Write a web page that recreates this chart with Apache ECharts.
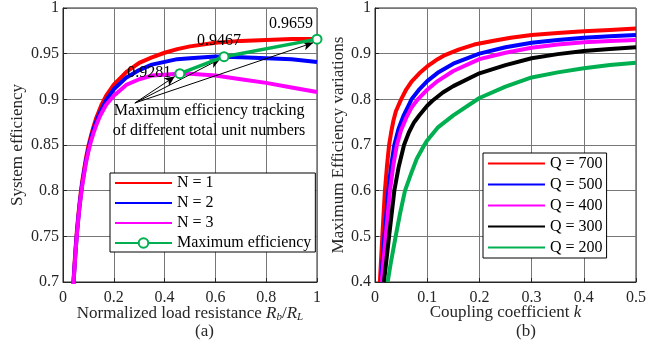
<!DOCTYPE html>
<html><head><meta charset="utf-8">
<script src="https://cdn.jsdelivr.net/npm/echarts@6/dist/echarts.min.js"></script>
<style>html,body{margin:0;padding:0;background:#fff}#c{width:649px;height:347px}</style>
</head><body><div id="c"></div>
<script>
// ---- Panel (a) data ----
var loadX = [0.041,0.045,0.05,0.055,0.06,0.065,0.07,0.075,0.08,0.09,0.1,0.11,0.12,0.13,0.14,0.15,0.17,0.2,0.25,0.3,0.35,0.4,0.45,0.5,0.6,0.7,0.8,0.9,1.0];
var effN1 = [0.700,0.718,0.739,0.757,0.772,0.786,0.798,0.809,0.818,0.835,0.849,0.860,0.870,0.879,0.886,0.893,0.904,0.916,0.930,0.940,0.946,0.951,0.955,0.958,0.962,0.964,0.965,0.966,0.966];
var effN2 = [0.698,0.715,0.736,0.754,0.769,0.783,0.795,0.806,0.815,0.832,0.845,0.857,0.867,0.875,0.882,0.888,0.899,0.911,0.924,0.932,0.938,0.941,0.944,0.945,0.947,0.946,0.945,0.944,0.941];
var effN3 = [0.697,0.714,0.735,0.753,0.768,0.782,0.793,0.804,0.813,0.830,0.843,0.854,0.863,0.871,0.878,0.884,0.894,0.904,0.916,0.922,0.926,0.927,0.928,0.928,0.926,0.922,0.918,0.913,0.908];
var maxX = [0.46,0.634,1.0];
var maxEff = [0.9281,0.9467,0.9659];
var legendA = ['N = 1','N = 2','N = 3','Maximum efficiency'];
var arrowFrom = [0.283,0.896];
var arrowTo = [[0.44,0.925],[0.618,0.944],[0.985,0.962]];
var noteText = ['Maximum efficiency tracking','of different total unit numbers'];
var notePos = [0.575,0.876];
// ---- Panel (b) data ----
var kQ700 = [0.0093,0.014,0.019,0.023,0.027,0.031,0.035,0.04,0.05,0.06,0.07,0.085,0.1,0.12,0.134,0.16,0.19,0.23,0.26,0.3,0.35,0.4,0.45,0.5];
var eQ700 = [0.40,0.50,0.60,0.655,0.70,0.728,0.752,0.774,0.80,0.822,0.839,0.857,0.872,0.888,0.897,0.909,0.920,0.929,0.935,0.941,0.945,0.949,0.952,0.955];
var kQ500 = [0.0115,0.018,0.0256,0.031,0.037,0.045,0.055,0.07,0.085,0.1,0.12,0.15,0.2,0.25,0.3,0.35,0.4,0.45,0.5];
var eQ500 = [0.40,0.50,0.60,0.655,0.70,0.735,0.765,0.80,0.822,0.84,0.858,0.878,0.90,0.914,0.924,0.930,0.935,0.938,0.941];
var kQ400 = [0.0128,0.0205,0.0287,0.035,0.042,0.05,0.06,0.07,0.082,0.1,0.12,0.15,0.2,0.25,0.3,0.35,0.4,0.45,0.5];
var eQ400 = [0.40,0.50,0.60,0.655,0.70,0.733,0.760,0.782,0.80,0.821,0.84,0.862,0.888,0.902,0.913,0.920,0.925,0.928,0.930];
var kQ300 = [0.0172,0.027,0.037,0.045,0.0556,0.065,0.075,0.085,0.1,0.11,0.13,0.15,0.2,0.25,0.3,0.35,0.4,0.45,0.5];
var eQ300 = [0.40,0.50,0.60,0.65,0.70,0.728,0.75,0.765,0.786,0.797,0.815,0.829,0.857,0.875,0.890,0.899,0.906,0.910,0.914];
var kQ200 = [0.0243,0.03,0.0396,0.048,0.0575,0.07,0.08,0.0945,0.1,0.12,0.15,0.2,0.25,0.3,0.35,0.4,0.45,0.5];
var eQ200 = [0.40,0.44,0.50,0.55,0.60,0.64,0.67,0.70,0.71,0.738,0.765,0.803,0.828,0.848,0.859,0.868,0.875,0.880];
var legendB = ['Q = 700','Q = 500','Q = 400','Q = 300','Q = 200'];

var FF = '"Liberation Serif","Times New Roman",serif';
var TXT = '#262626';
function pairs(xs, ys){ return xs.map(function(x,i){ return [x, ys[i]]; }); }

var labelCfg = [
  {position:'left', distance:3, offset:[0,-1]},
  {position:'top', distance:2, offset:[-5,0]},
  {position:'top', distance:2, offset:[-26,0]}
];
var maxData = maxX.map(function(x,i){
  return {value:[x, maxEff[i]], label:Object.assign({show:true, formatter:maxEff[i].toFixed(4), fontFamily:FF, fontSize:16, color:'#000'}, labelCfg[i])};
});

function axisCommon(){
  return {
    nameMoveOverlap:false,
    axisLine:{show:true, lineStyle:{color:TXT, width:1}},
    axisTick:{show:true, inside:true, length:4, lineStyle:{color:TXT}},
    splitLine:{show:true, lineStyle:{color:'#777777', width:1}},
    axisLabel:{fontFamily:FF, fontSize:16, color:TXT},
    nameTextStyle:{fontFamily:FF, fontSize:17, color:TXT}
  };
}
function mk(extra){ return Object.assign(axisCommon(), extra); }

var lineW = 4;
function lineSeries(name, data, color, xi){
  return {type:'line', name:name, data:data, xAxisIndex:xi, yAxisIndex:xi, showSymbol:false, symbol:'none',
    smooth:false, lineStyle:{color:color, width:lineW, join:'round'}, itemStyle:{color:color}, z:2, animation:false};
}
function legItems(names, keepLast){
  return names.map(function(n,i){
    if (keepLast && i === names.length-1) return {name:n};
    return {name:n, itemStyle:{opacity:0}};
  });
}

var option = {
  animation:false,
  backgroundColor:'#fff',
  grid:[
    {left:63, top:6, width:254, height:276, show:true, borderColor:TXT, borderWidth:1, backgroundColor:'transparent'},
    {left:375, top:6, width:261, height:276, show:true, borderColor:TXT, borderWidth:1, backgroundColor:'transparent'}
  ],
  xAxis:[
    mk({gridIndex:0, type:'value', min:0, max:1, interval:0.2, nameLocation:'middle', nameGap:22,
      name:'{t|Normalized load resistance }{i|R}{s|b}{t|/}{i|R}{s|L}',
      axisLabel:{fontFamily:FF, fontSize:16, color:TXT, margin:8},
      nameTextStyle:{fontFamily:FF, fontSize:17, color:TXT, rich:{
        t:{fontFamily:FF, fontSize:17, color:TXT},
        i:{fontFamily:FF, fontSize:17, fontStyle:'italic', color:TXT},
        s:{fontFamily:FF, fontSize:11, fontStyle:'italic', color:TXT, padding:[8,0,0,0]}
      }}}),
    mk({gridIndex:1, type:'value', min:0, max:0.5, interval:0.1, nameLocation:'middle', nameGap:22,
      name:'{t|Coupling coefficient }{i|k}',
      axisLabel:{fontFamily:FF, fontSize:16, color:TXT, margin:8},
      nameTextStyle:{fontFamily:FF, fontSize:17, color:TXT, rich:{
        t:{fontFamily:FF, fontSize:17, color:TXT},
        i:{fontFamily:FF, fontSize:17, fontStyle:'italic', color:TXT}
      }}})
  ],
  yAxis:[
    mk({gridIndex:0, type:'value', min:0.7, max:1, interval:0.05, name:'System efficiency', nameLocation:'middle', nameGap:37,
      axisLabel:{fontFamily:FF, fontSize:16, color:TXT, margin:4}}),
    mk({gridIndex:1, type:'value', min:0.4, max:1, interval:0.1, name:'Maximum Efficiency variations', nameLocation:'middle', nameGap:28,
      axisLabel:{fontFamily:FF, fontSize:16, color:TXT, margin:4}})
  ],
  legend:[
    {orient:'vertical', left:110, top:173, data:legItems(legendA, true), itemWidth:57, itemHeight:12, itemGap:4,
     padding:[2,4,1,4], borderColor:'#000', borderWidth:1, backgroundColor:'#fff',
     textStyle:{fontFamily:FF, fontSize:16, color:'#000', lineHeight:16}},
    {orient:'vertical', left:483, top:153, data:legItems(legendB, false), itemWidth:57, itemHeight:12, itemGap:4,
     padding:[2,4,2,4], borderColor:'#000', borderWidth:1, backgroundColor:'#fff',
     textStyle:{fontFamily:FF, fontSize:16, color:'#000', lineHeight:17}}
  ],
  graphic:[
    {type:'text', style:{text:'(a)', font:'17px '+FF, fill:TXT}, left:195, top:323},
    {type:'text', style:{text:'(b)', font:'17px '+FF, fill:TXT}, left:516, top:323}
  ],
  series:[
    lineSeries('N = 1', pairs(loadX, effN1), '#ff0000', 0),
    lineSeries('N = 2', pairs(loadX, effN2), '#0000ff', 0),
    lineSeries('N = 3', pairs(loadX, effN3), '#ff00ff', 0),
    {type:'line', name:'Maximum efficiency', data:maxData, xAxisIndex:0, yAxisIndex:0,
      symbol:'emptyCircle', symbolSize:9, showSymbol:true, lineStyle:{color:'#00b050', width:3.5},
      itemStyle:{color:'#00b050', borderColor:'#00b050', borderWidth:3}, z:5, animation:false,
      markLine:{silent:true, symbol:['none','arrow'], symbolSize:[7,10], animation:false,
        lineStyle:{color:'#000', width:1, type:'solid'}, label:{show:false},
        data: arrowTo.map(function(t){ return [{coord:arrowFrom},{coord:t}]; })},
      markPoint:{silent:true, symbol:'circle', symbolSize:0, animation:false,
        data:[{coord:notePos, label:{show:true, formatter:noteText.join('\n'), fontFamily:FF, fontSize:16, lineHeight:20, color:'#000', position:'inside'}}]}
    },
    lineSeries('Q = 700', pairs(kQ700, eQ700), '#ff0000', 1),
    lineSeries('Q = 500', pairs(kQ500, eQ500), '#0000ff', 1),
    lineSeries('Q = 400', pairs(kQ400, eQ400), '#ff00ff', 1),
    lineSeries('Q = 300', pairs(kQ300, eQ300), '#000000', 1),
    lineSeries('Q = 200', pairs(kQ200, eQ200), '#00b050', 1)
  ]
};
var chart = echarts.init(document.getElementById('c'), null, {renderer:'canvas'});
chart.setOption(option);
</script>
</body></html>
